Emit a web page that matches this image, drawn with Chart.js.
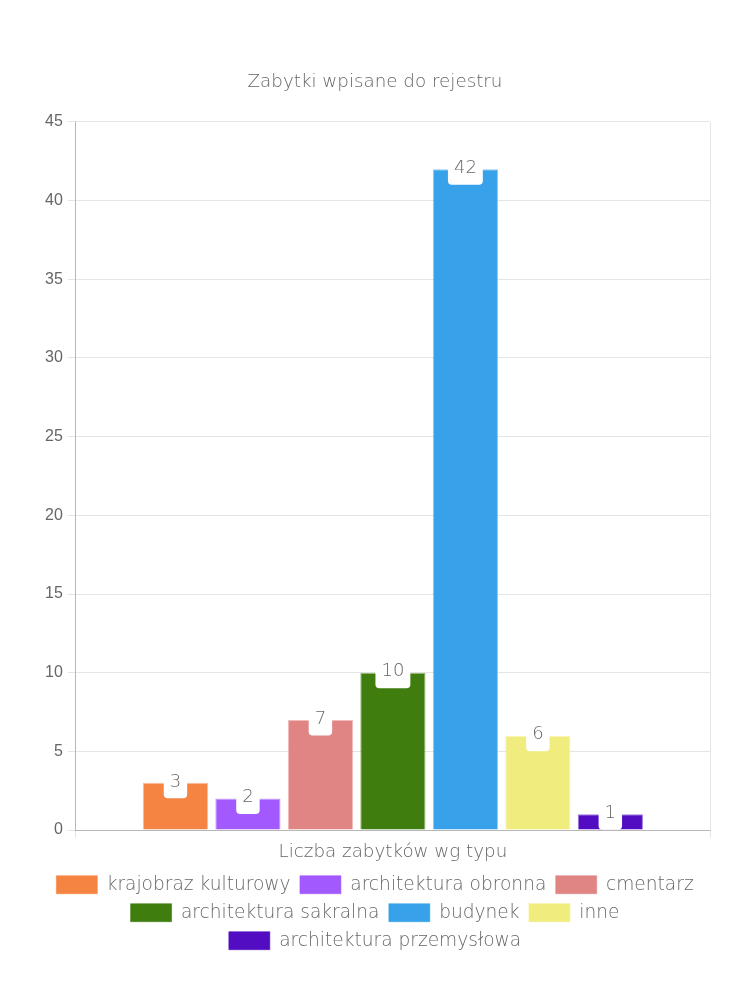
<!DOCTYPE html>
<html>
<head>
<meta charset="utf-8">
<script src="https://cdn.jsdelivr.net/npm/chart.js@4.4.1/dist/chart.umd.min.js"></script>
<style>
  html, body { margin: 0; padding: 0; background: #fff; }
  #wrap { width: 750px; height: 1000px; position: relative; }
</style>
</head>
<body>
<div id="wrap"><canvas id="c" width="750" height="1000"></canvas></div>
<script>
const chartTitle = "Zabytki wpisane do rejestru";
const categories = ["Liczba zabytków wg typu"];
const seriesNames = ["krajobraz kulturowy", "architektura obronna", "cmentarz", "architektura sakralna", "budynek", "inne", "architektura przemysłowa"];
const seriesValues = [3, 2, 7, 10, 42, 6, 1];
const seriesColors = ["#F58442", "#A25AFF", "#E08484", "#3F7E0E", "#37A2EA", "#F0EC7E", "#520CC1"];
const yTicks = [0, 5, 10, 15, 20, 25, 30, 35, 40, 45];

const roundFont = '"DejaVu Sans", sans-serif';
const textColor = '#666';

function hexA(hex, a) {
  const n = parseInt(hex.slice(1), 16);
  return `rgba(${(n >> 16) & 255},${(n >> 8) & 255},${n & 255},${a})`;
}

const valueLabels = {
  id: 'valueLabels',
  afterDatasetsDraw(chart) {
    const ctx = chart.ctx;
    ctx.save();
    ctx.font = `300 18px ${roundFont}`;
    ctx.textAlign = 'center';
    ctx.textBaseline = 'middle';
    chart.data.datasets.forEach((ds, i) => {
      const meta = chart.getDatasetMeta(i);
      meta.data.forEach((el, j) => {
        const {x, y} = el.getProps(['x', 'y'], true);
        const txt = String(ds.data[j]);
        const w = ctx.measureText(txt).width + 12;
        const h = 33;
        const cy = y - 1;
        ctx.fillStyle = '#fff';
        ctx.beginPath();
        ctx.roundRect(x - w / 2, cy - h / 2, w, h, 4);
        ctx.fill();
        ctx.fillStyle = textColor;
        ctx.fillText(txt, x, cy);
      });
    });
    ctx.restore();
  }
};

const datasets = seriesNames.map((name, i) => ({
  label: name,
  data: [seriesValues[i]],
  backgroundColor: seriesColors[i],
  borderColor: hexA(seriesColors[i], 0.55),
  borderWidth: 1
}));

new Chart(document.getElementById('c'), {
  type: 'bar',
  data: { labels: categories, datasets },
  options: {
    responsive: false,
    animation: false,
    layout: { padding: { top: 61, left: 40, right: 40, bottom: 40 } },
    plugins: {
      title: {
        display: true,
        text: chartTitle,
        color: textColor,
        font: { family: roundFont, size: 18.3, weight: '300' },
        padding: { top: 10, bottom: 29 }
      },
      legend: {
        position: 'bottom',
        labels: {
          color: textColor,
          font: { family: roundFont, size: 18.6, weight: '300' },
          boxWidth: 41,
          boxHeight: 18,
          padding: 9.4
        }
      },
      tooltip: { enabled: false }
    },
    scales: {
      x: {
        grid: { color: 'rgba(0,0,0,0.1)', tickLength: 8 },
        border: { color: 'rgba(0,0,0,0.2)' },
        ticks: { color: textColor, font: { family: roundFont, size: 18.3, weight: '300' } }
      },
      y: {
        min: 0,
        max: 45,
        afterBuildTicks(axis) { axis.ticks = yTicks.map(v => ({ value: v })); },
        grid: { color: 'rgba(0,0,0,0.1)', tickLength: 8 },
        border: { color: 'rgba(0,0,0,0.2)' },
        ticks: { color: textColor, font: { family: 'Liberation Sans, Arial, sans-serif', size: 16 }, padding: 5 }
      }
    }
  },
  plugins: [valueLabels]
});
</script>
</body>
</html>
